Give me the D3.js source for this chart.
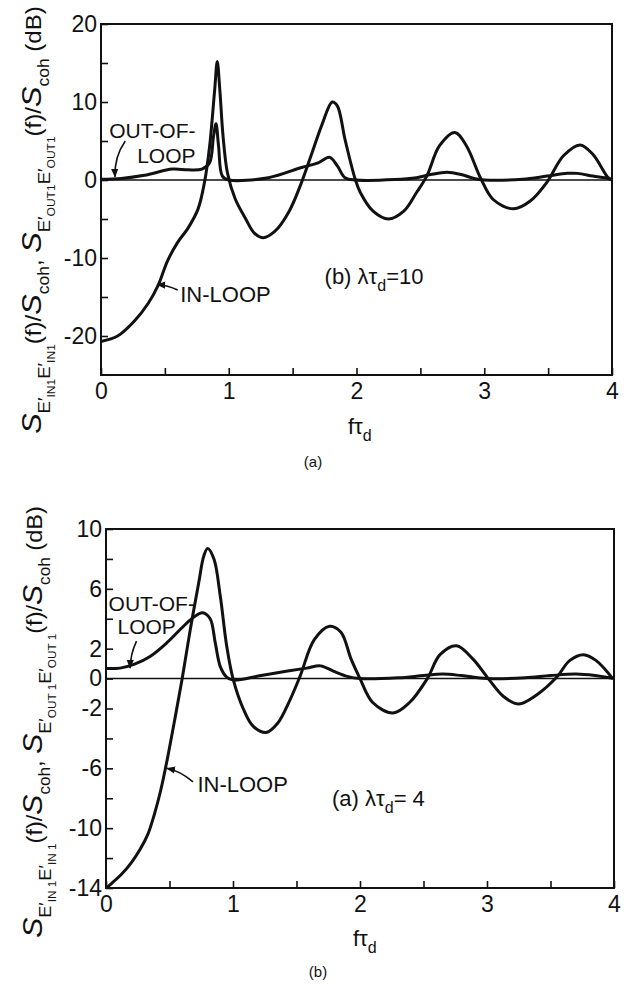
<!DOCTYPE html>
<html>
<head>
<meta charset="utf-8">
<script src="https://cdn.jsdelivr.net/npm/d3@7"></script>
<style>
  body { margin: 0; background: #fff; }
  svg { display: block; }
  text { font-family: "Liberation Sans", Arial, sans-serif; fill: #111; }
</style>
</head>
<body>
<div id="chart"></div>
<script>
// ---- data (f*tau_d , dB) ----
var topInF   = [0, 0.13, 0.26, 0.37, 0.45, 0.52, 0.60, 0.68, 0.76, 0.81, 0.85, 0.89, 0.91, 0.93, 0.955, 0.99, 1.05, 1.13, 1.20, 1.27, 1.36, 1.47, 1.57, 1.65, 1.73, 1.81, 1.85, 1.91, 1.99, 2.03, 2.13, 2.25, 2.37, 2.47, 2.55, 2.65, 2.77, 2.86, 2.97, 3.07, 3.23, 3.36, 3.49, 3.62, 3.75, 3.85, 3.97, 4.0];
var topInDb  = [-20.7, -20.0, -18.1, -15.8, -13.4, -10.4, -8.0, -6.2, -3.7, -0.3, 4.3, 11.6, 15.2, 11.6, 5.7, 0.9, -2.4, -4.9, -6.8, -7.4, -6.6, -4.1, -0.3, 3.4, 7.1, 10.0, 9.5, 5.2, 0.1, -1.6, -4.0, -5.0, -4.0, -1.6, 0.5, 4.4, 6.1, 4.4, 0.3, -2.5, -3.7, -2.7, -0.3, 3.1, 4.5, 3.3, 0.3, 0];

var topOutF  = [0, 0.16, 0.34, 0.56, 0.68, 0.79, 0.85, 0.88, 0.90, 0.92, 0.95, 1.0, 1.31, 1.57, 1.70, 1.79, 1.85, 1.91, 1.99, 2.3, 2.47, 2.58, 2.71, 2.82, 2.92, 3.0, 3.3, 3.49, 3.65, 3.73, 3.85, 3.97, 4.0];
var topOutDb = [0.1, 0.2, 0.6, 1.4, 1.3, 1.4, 2.2, 5.5, 7.2, 4.4, 0.5, 0, 0.3, 1.6, 2.2, 2.9, 1.8, 0.3, 0, 0.05, 0.3, 0.7, 1.0, 0.7, 0.2, 0, 0.1, 0.5, 0.85, 0.85, 0.5, 0.2, 0];

var botInF   = [0, 0.05, 0.12, 0.20, 0.27, 0.33, 0.38, 0.43, 0.48, 0.54, 0.60, 0.66, 0.73, 0.77, 0.80, 0.85, 0.90, 0.95, 1.0, 1.08, 1.16, 1.26, 1.35, 1.45, 1.53, 1.64, 1.76, 1.85, 1.93, 2.0, 2.1, 2.26, 2.39, 2.53, 2.63, 2.76, 2.89, 3.01, 3.13, 3.25, 3.39, 3.55, 3.65, 3.76, 3.86, 3.99];
var botInDb  = [-14, -13.65, -13.1, -12.3, -11.4, -10.4, -9.1, -7.5, -5.5, -2.8, 0, 3.1, 6.4, 8.2, 8.7, 8.0, 5.5, 2.2, 0, -2.0, -3.2, -3.6, -3.0, -1.4, 0.2, 2.6, 3.5, 3.1, 1.3, 0, -1.6, -2.3, -1.6, 0, 1.6, 2.2, 1.3, 0, -1.2, -1.7, -1.1, 0.1, 1.2, 1.6, 1.2, 0];

var botOutF  = [0, 0.11, 0.22, 0.35, 0.48, 0.61, 0.69, 0.76, 0.82, 0.86, 0.90, 0.95, 1.0, 1.22, 1.43, 1.58, 1.69, 1.79, 1.90, 2.0, 2.3, 2.5, 2.65, 2.8, 3.0, 3.3, 3.5, 3.7, 3.85, 4.0];
var botOutDb = [0.67, 0.7, 0.95, 1.5, 2.4, 3.5, 4.1, 4.4, 4.0, 2.4, 0.8, 0.1, -0.1, 0.2, 0.5, 0.7, 0.85, 0.5, 0.15, 0, 0.05, 0.2, 0.3, 0.2, 0, 0.05, 0.2, 0.3, 0.2, 0];

var xTicks     = [0, 0.5, 1, 1.5, 2, 2.5, 3, 3.5, 4];
var xLabels    = [0, 1, 2, 3, 4];
var topYTicks  = [-20, -15, -10, -5, 0, 5, 10, 15, 20];
var topYLabels = [20, 10, 0, -10, -20];
var botYTicks  = [-14, -12, -10, -8, -6, -4, -2, 0, 2, 4, 6, 8, 10];
var botYLabels = [10, 6, 2, 0, -2, -6, -10, -14];

var svg = d3.select("#chart").append("svg")
    .attr("width", 634)
    .attr("height", 984);

function zip(fs, vs) {
    return fs.map(function (f, i) { return { f: f, v: vs[i] }; });
}

// draws one panel, returns its scales
function panel(opt) {
    var x = d3.scaleLinear().domain([0, 4]).range(opt.xr);
    var y = d3.scaleLinear().domain(opt.yd).range(opt.yr);
    var g = svg.append("g");

    // axes (ticks point inward)
    var ax = g.append("g")
        .attr("transform", "translate(0," + opt.yr[0] + ")")
        .call(d3.axisBottom(x).tickValues(xTicks).tickSize(-7).tickPadding(8)
            .tickFormat(function (d) { return xLabels.indexOf(d) >= 0 ? String(d) : ""; }));
    var ay = g.append("g")
        .attr("transform", "translate(" + opt.xr[0] + ",0)")
        .call(d3.axisLeft(y).tickValues(opt.yTicks).tickSize(-7).tickPadding(4)
            .tickFormat(function (d) { return opt.yLabels.indexOf(d) >= 0 ? String(d) : ""; }));
    [ax, ay].forEach(function (a) {
        a.select(".domain").remove();
        a.selectAll(".tick line").attr("stroke", "#111").attr("stroke-width", 1.6);
        a.selectAll("text").style("font-size", "23px").attr("fill", "#111");
    });

    // frame
    g.append("rect")
        .attr("x", opt.xr[0]).attr("y", opt.yr[1])
        .attr("width", opt.xr[1] - opt.xr[0]).attr("height", opt.yr[0] - opt.yr[1])
        .attr("fill", "none").attr("stroke", "#111").attr("stroke-width", 2);

    // zero line
    g.append("line")
        .attr("x1", x(0)).attr("x2", x(4)).attr("y1", y(0)).attr("y2", y(0))
        .attr("stroke", "#111").attr("stroke-width", 1.5);

    var line = d3.line()
        .x(function (d) { return x(d.f); })
        .y(function (d) { return y(d.v); })
        .curve(d3.curveCatmullRom.alpha(0.5));

    g.selectAll("path.curve")
        .data([opt.inLoop, opt.outLoop])
        .enter()
        .append("path")
        .attr("class", "curve")
        .attr("fill", "none")
        .attr("stroke", "#111")
        .attr("stroke-width", 3)
        .attr("stroke-linejoin", "round")
        .attr("d", line);

    return { g: g, x: x, y: y };
}

// arrowhead
svg.append("defs").append("marker")
    .attr("id", "head")
    .attr("viewBox", "0 0 10 10")
    .attr("refX", 9).attr("refY", 5)
    .attr("markerWidth", 9).attr("markerHeight", 9)
    .attr("markerUnits", "userSpaceOnUse")
    .attr("orient", "auto")
    .append("path").attr("d", "M0,1 L10,5 L0,9 z").attr("fill", "#111");

function arrow(p, from, to, bend) {
    var x0 = p.x(from[0]), y0 = p.y(from[1]), x1 = p.x(to[0]), y1 = p.y(to[1]);
    var mx = (x0 + x1) / 2 + bend[0], my = (y0 + y1) / 2 + bend[1];
    p.g.append("path")
        .attr("d", "M" + x0 + "," + y0 + " Q" + mx + "," + my + " " + x1 + "," + y1)
        .attr("fill", "none").attr("stroke", "#111").attr("stroke-width", 1.6)
        .attr("marker-end", "url(#head)");
}

function label(p, f, v, txt, anchor, size) {
    p.g.append("text")
        .attr("x", p.x(f)).attr("y", p.y(v))
        .attr("text-anchor", anchor || "start")
        .style("font-size", (size || 22) + "px")
        .text(txt);
}

function lambdaLabel(p, f, v, pre, post) {
    var t = p.g.append("text").attr("x", p.x(f)).attr("y", p.y(v)).style("font-size", "22px");
    t.append("tspan").text(pre + " λτ");
    t.append("tspan").attr("dy", 7).style("font-size", "16px").text("d");
    t.append("tspan").attr("dy", -7).text(post);
}

function fTau(x, y) {
    var t = svg.append("text").attr("x", x).attr("y", y).style("font-size", "22px");
    t.append("tspan").text("fτ");
    t.append("tspan").attr("dy", 7).style("font-size", "16px").text("d");
}

// rotated y label built from pieces: [text, size, shift, italic]
function yTitle(cx, cy, length, sub1, sub2) {
    var parts = [
        ["S", 28, 0, 1], ["E′", 17, 9], [sub1, 11, 14], ["E′", 17, 9], [sub1, 11, 14],
        ["(f)/", 22, 0], ["S", 28, 0, 1], ["coh", 16, 8], [", ", 22, 0],
        ["S", 28, 0, 1], ["E′", 17, 9], [sub2, 11, 14], ["E′", 17, 9], [sub2, 11, 14],
        ["(f)/", 22, 0], ["S", 28, 0, 1], ["coh", 16, 8], [" (dB)", 22, 0]
    ];
    var t = svg.append("text").attr("text-anchor", "middle");
    var prev = 0;
    parts.forEach(function (p) {
        t.append("tspan")
            .attr("dy", p[2] - prev)
            .style("font-size", p[1] + "px")
            .style("font-style", p[3] ? "italic" : "normal")
            .text(p[0]);
        prev = p[2];
    });
    var len = t.node().getComputedTextLength();
    var k = length / len;
    t.attr("transform", "translate(" + cx + "," + cy + ") rotate(-90) scale(" + k + ",1)");
}

// ---- top panel : lambda tau_d = 10 ----
var panelTop = panel({
    xr: [101, 612], yr: [375, 24], yd: [-25, 20],
    yTicks: topYTicks, yLabels: topYLabels,
    inLoop: zip(topInF, topInDb), outLoop: zip(topOutF, topOutDb)
});
label(panelTop, 0.74, 5.4, "OUT-OF-", "end", 21);
label(panelTop, 0.74, 2.2, "LOOP", "end", 21);
arrow(panelTop, [0.19, 5.0], [0.11, 0.4], [-6, -2]);
label(panelTop, 0.62, -15.6, "IN-LOOP");
arrow(panelTop, [0.60, -14.1], [0.44, -13.4], [0, -2]);
lambdaLabel(panelTop, 1.75, -13.3, "(b)", "=10");
fTau(348, 434);
svg.append("text").attr("x", 313).attr("y", 467).attr("text-anchor", "middle")
    .style("font-size", "15px").text("(a)");
yTitle(41, 220, 428, "IN1", "OUT1");

// ---- bottom panel : lambda tau_d = 4 ----
var panelBot = panel({
    xr: [106, 614], yr: [888, 529], yd: [-14, 10],
    yTicks: botYTicks, yLabels: botYLabels,
    inLoop: zip(botInF, botInDb), outLoop: zip(botOutF, botOutDb)
});
label(panelBot, 0.70, 4.5, "OUT-OF-", "end", 21);
label(panelBot, 0.55, 3.0, "LOOP", "end", 21);
arrow(panelBot, [0.24, 2.5], [0.19, 0.7], [-3, 0]);
label(panelBot, 0.72, -7.6, "IN-LOOP");
arrow(panelBot, [0.685, -6.9], [0.48, -6.0], [0, -4]);
lambdaLabel(panelBot, 1.78, -8.5, "(a)", "= 4");
fTau(353, 946);
svg.append("text").attr("x", 318).attr("y", 977).attr("text-anchor", "middle")
    .style("font-size", "15px").text("(b)");
yTitle(42, 722, 432, "IN 1", "OUT 1");
</script>
</body>
</html>
